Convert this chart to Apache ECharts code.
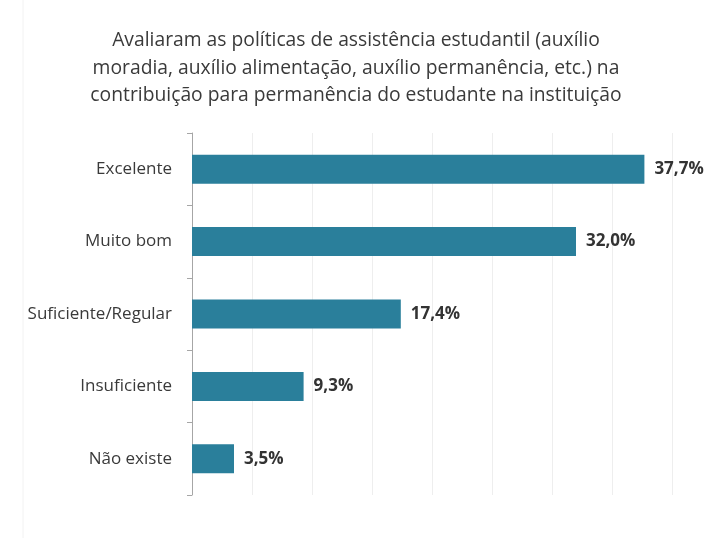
<!DOCTYPE html>
<html>
<head>
<meta charset="utf-8">
<script src="https://cdn.jsdelivr.net/npm/echarts@6/dist/echarts.min.js"></script>
<style>
  html, body { margin: 0; padding: 0; background: #ffffff; }
  #chart { width: 712px; height: 538px; }
</style>
</head>
<body>
<div id="chart"></div>
<script>
// Avaliação das políticas de assistência estudantil (% de respostas)
const categories = ['Excelente', 'Muito bom', 'Suficiente/Regular', 'Insuficiente', 'Não existe'];
const percentValues = [37.7, 32.0, 17.4, 9.3, 3.5];
const titleText = 'Avaliaram as políticas de assistência estudantil (auxílio\nmoradia, auxílio alimentação, auxílio permanência, etc.) na\ncontribuição para permanência do estudante na instituição';

const fmt = v => v.toFixed(1).replace('.', ',') + '%';
const font = '"Open Sans", Lato, sans-serif';

const chart = echarts.init(document.getElementById('chart'), null, { renderer: 'canvas' });
chart.setOption({
  backgroundColor: '#ffffff',
  animation: false,
  title: {
    text: titleText,
    left: 'center',
    top: 22,
    textStyle: {
      fontFamily: font,
      fontSize: 19.3,
      fontWeight: 'normal',
      color: '#3a3a3a',
      lineHeight: 27.5
    }
  },
  graphic: [{
    type: 'line',
    shape: { x1: 23, y1: 0, x2: 23, y2: 538 },
    style: { stroke: '#f2f2f2', lineWidth: 1 }
  }],
  grid: { left: 192, right: 40, top: 133, bottom: 43 },
  xAxis: {
    type: 'value',
    min: 0,
    max: 40,
    interval: 5,
    axisLabel: { show: false },
    axisLine: { show: false },
    axisTick: { show: false },
    splitLine: { show: true, lineStyle: { color: '#eeeeee', width: 1 } }
  },
  yAxis: {
    type: 'category',
    data: categories,
    inverse: true,
    axisLine: { show: true, lineStyle: { color: '#a6a6a6', width: 1 } },
    axisTick: { show: true, length: 5, lineStyle: { color: '#a6a6a6' } },
    axisLabel: {
      margin: 20,
      fontFamily: font,
      fontSize: 17,
      color: '#3a3a3a'
    }
  },
  series: [{
    type: 'bar',
    data: percentValues,
    barWidth: 29,
    itemStyle: { color: '#2a7f9b' },
    label: {
      show: true,
      position: 'right',
      distance: 10,
      formatter: p => fmt(p.value),
      fontFamily: font,
      fontSize: 17,
      fontWeight: 'bold',
      color: '#333333'
    }
  }]
});
</script>
</body>
</html>
